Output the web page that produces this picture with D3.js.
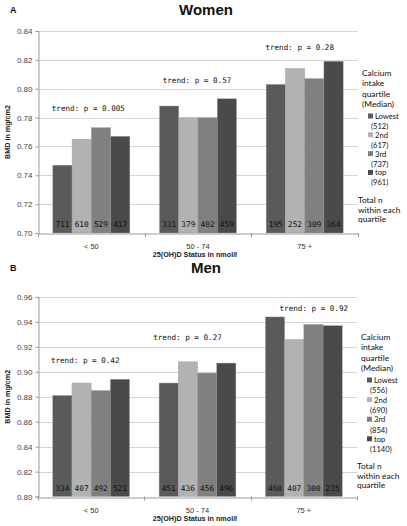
<!DOCTYPE html>
<html>
<head>
<meta charset="utf-8">
<script src="https://cdn.jsdelivr.net/npm/d3@7"></script>
<style>
  html, body { margin: 0; padding: 0; background: #fff; }
  svg { display: block; }
</style>
</head>
<body>
<svg id="chart" width="407" height="526"></svg>
<script>
// ---------- DATA ----------
const categories = ["< 50", "50 - 74", "75 +"];
const quartiles = ["Lowest", "2nd", "3rd", "top"];

// Women: BMD per quartile (rows) x 25(OH)D category (columns)
const womenLowest = [0.747, 0.788, 0.803];
const women2nd    = [0.765, 0.780, 0.814];
const women3rd    = [0.773, 0.780, 0.807];
const womenTop    = [0.767, 0.793, 0.819];
const womenCounts = [[711, 610, 529, 417], [331, 379, 402, 459], [195, 252, 309, 364]];
const womenTrend  = ["trend: p = 0.005", "trend: p = 0.57", "trend: p = 0.28"];
const womenMedians = ["(512)", "(617)", "(737)", "(961)"];
const womenTicks = [0.70, 0.72, 0.74, 0.76, 0.78, 0.80, 0.82, 0.84];

// Men
const menLowest = [0.881, 0.891, 0.944];
const men2nd    = [0.891, 0.908, 0.926];
const men3rd    = [0.885, 0.899, 0.938];
const menTop    = [0.894, 0.907, 0.937];
const menCounts = [[334, 407, 492, 521], [451, 436, 456, 496], [468, 407, 300, 235]];
const menTrend  = ["trend: p = 0.42", "trend: p = 0.27", "trend: p = 0.92"];
const menMedians = ["(556)", "(690)", "(854)", "(1140)"];
const menTicks = [0.80, 0.82, 0.84, 0.86, 0.88, 0.90, 0.92, 0.94, 0.96];

// ---------- STYLE ----------
const colors = ["#5a5a5a", "#b2b2b2", "#808080", "#4a4a4a"];
const sans = "'Liberation Sans', Arial, sans-serif";
const legendFont = "Lato, 'Liberation Sans', sans-serif";
const mono = "'DejaVu Sans Mono', 'Liberation Mono', monospace";

const svg = d3.select("#chart");

function drawPanel(cfg) {
  const series = cfg.series;
  const g = svg.append("g");

  const x = d3.scaleBand().domain(categories).range([cfg.left, cfg.right]).paddingInner(0).paddingOuter(0);
  const xq = d3.scaleBand().domain(quartiles).range([0, x.bandwidth()]).paddingInner(0).paddingOuter(0.77);
  const y = d3.scaleLinear().domain([cfg.ticks[0], cfg.ticks[cfg.ticks.length - 1]]).range([cfg.bottom, cfg.top]);

  // panel letter and title
  g.append("text").attr("x", 10).attr("y", cfg.titleY).text(cfg.letter)
    .attr("font-family", sans).attr("font-weight", "bold").attr("font-size", 9).attr("fill", "#111");
  g.append("text").attr("x", 206).attr("y", cfg.titleY + 2).attr("text-anchor", "middle").text(cfg.title)
    .attr("font-family", sans).attr("font-weight", "bold").attr("font-size", 15).attr("fill", "#111");

  // gridlines
  g.append("g").selectAll("line").data(cfg.ticks.slice(1)).join("line")
    .attr("x1", cfg.left).attr("x2", cfg.right)
    .attr("y1", d => Math.round(y(d)) + 0.5).attr("y2", d => Math.round(y(d)) + 0.5)
    .attr("stroke", "#d6d6d6").attr("stroke-width", 1);

  // y axis
  const yAxis = d3.axisLeft(y).tickValues(cfg.ticks).tickFormat(d3.format(".2f")).tickSize(3).tickPadding(3);
  const ya = g.append("g").attr("transform", `translate(${cfg.left + 0.5},0)`).call(yAxis);
  ya.select(".domain").attr("stroke", "#9a9a9a");
  ya.selectAll(".tick line").attr("stroke", "#9a9a9a");
  ya.selectAll("text").attr("font-family", sans).attr("font-size", 8).attr("fill", "#444");

  // bars
  const barData = [];
  categories.forEach((c, ci) => {
    quartiles.forEach((q, qi) => {
      barData.push({ c, q, qi, v: series[qi][ci], n: cfg.counts[ci][qi] });
    });
  });
  g.append("g").selectAll("rect").data(barData).join("rect")
    .attr("x", d => x(d.c) + xq(d.q))
    .attr("width", xq.bandwidth())
    .attr("y", d => y(d.v))
    .attr("height", d => y(y.domain()[0]) - y(d.v))
    .attr("fill", d => colors[d.qi])
    .attr("stroke", "#9c9c9c").attr("stroke-width", 0.4);

  // count labels
  g.append("g").selectAll("text").data(barData).join("text")
    .attr("x", d => x(d.c) + xq(d.q) + xq.bandwidth() / 2)
    .attr("y", y(y.domain()[0]) - 6)
    .attr("text-anchor", "middle")
    .attr("font-family", mono).attr("font-size", 7.8).attr("fill", "#111")
    .text(d => d.n);

  // x axis
  const xAxis = d3.axisBottom(x).tickSize(0).tickPadding(10);
  const xa = g.append("g").attr("transform", `translate(0,${Math.round(cfg.bottom) + 0.5})`).call(xAxis);
  xa.select(".domain").attr("stroke", "#9a9a9a");
  xa.selectAll("text").attr("font-family", sans).attr("font-size", 7.5).attr("fill", "#333");
  // boundary tick marks
  const bounds = categories.map(c => x(c)).concat([cfg.right]);
  g.append("g").selectAll("line").data(bounds).join("line")
    .attr("x1", d => Math.round(d) + 0.5).attr("x2", d => Math.round(d) + 0.5)
    .attr("y1", cfg.bottom).attr("y2", cfg.bottom + 4)
    .attr("stroke", "#9a9a9a");

  // axis titles
  g.append("text").attr("x", 195).attr("y", cfg.bottom + 24).attr("text-anchor", "middle")
    .text("25(OH)D Status in nmol/l").attr("font-family", sans).attr("font-weight", "bold")
    .attr("font-size", 7.2).attr("fill", "#222");
  g.append("text").attr("transform", `translate(10,${(cfg.top + cfg.bottom) / 2}) rotate(-90)`)
    .attr("text-anchor", "middle").text("BMD in mg/cm2").attr("font-family", sans)
    .attr("font-weight", "bold").attr("font-size", 7.2).attr("fill", "#222");

  // trend labels
  g.append("g").selectAll("text").data(cfg.trend).join("text")
    .attr("x", (d, i) => x(categories[i]) + x.bandwidth() / 2 + cfg.trendDx[i])
    .attr("y", (d, i) => y(d3.max(series, s => s[i])) - cfg.trendGap[i])
    .attr("text-anchor", "middle")
    .attr("font-family", mono).attr("font-size", 7.6).attr("fill", "#111")
    .text(d => d);

  // legend
  const lg = g.append("g").attr("font-family", legendFont).attr("fill", "#111");
  const lx = cfg.right + 4;
  ["Calcium", "intake", "quartile", "(Median)"].forEach((t, i) => {
    lg.append("text").attr("x", lx).attr("y", cfg.legendTop + i * 10.3 + 3).text(t)
      .attr("font-size", 8.4).attr("fill", "#111");
  });
  const itemTop = cfg.legendTop + 43;
  quartiles.forEach((q, i) => {
    const yy = itemTop + i * cfg.itemStep;
    lg.append("rect").attr("x", lx + 6).attr("y", yy - 2.5).attr("width", 5).attr("height", 5)
      .attr("fill", colors[i]);
    lg.append("text").attr("x", lx + 13).attr("y", yy + 3).text(q).attr("font-size", 7.6).attr("fill", "#111");
    lg.append("text").attr("x", lx + 9).attr("y", yy + 3 + cfg.itemStep / 2 + 0.5).text(cfg.medians[i])
      .attr("font-size", 7.6).attr("fill", "#111");
  });
  ["Total n", "within each", "quartile"].forEach((t, i) => {
    lg.append("text").attr("x", cfg.right).attr("y", cfg.legendTop + cfg.totalOffset + i * 9.6 + 3).text(t)
      .attr("font-size", 8.4).attr("fill", "#111");
  });
}

drawPanel({
  letter: "A", title: "Women", titleY: 13,
  series: [womenLowest, women2nd, women3rd, womenTop],
  counts: womenCounts, trend: womenTrend, medians: womenMedians, ticks: womenTicks,
  left: 38, right: 358, top: 31, bottom: 233,
  trendDx: [-3, -1, -5], trendGap: [17, 16, 11],
  legendTop: 73, itemStep: 18.8, totalOffset: 127
});

drawPanel({
  letter: "B", title: "Men", titleY: 271,
  series: [menLowest, men2nd, men3rd, menTop],
  counts: menCounts, trend: menTrend, medians: menMedians, ticks: menTicks,
  left: 38, right: 357, top: 297, bottom: 496.5,
  trendDx: [-6, -10, 10], trendGap: [16, 22, 6],
  legendTop: 337, itemStep: 19.6, totalOffset: 129
});
</script>
</body>
</html>
